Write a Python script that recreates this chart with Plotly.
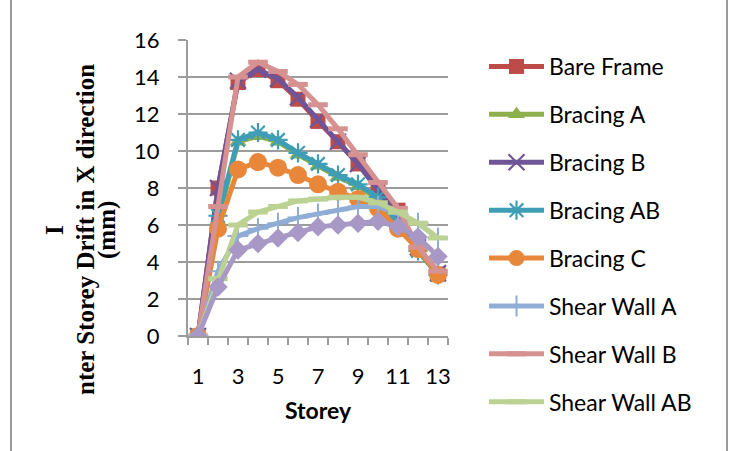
import plotly.graph_objects as go

# Storey numbers and inter-storey drift (mm) for each structural system
storeys = list(range(1, 14))

bare_frame = [0, 8.0, 13.7, 14.4, 13.8, 12.8, 11.6, 10.5, 9.3, 8.0, 6.8, 4.7, 3.35]
bracing_a = [0, 6.2, 10.5, 10.8, 10.5, 9.8, 9.2, 8.6, 8.1, 7.4, 6.0, 4.6, 3.3]
bracing_b = [0, 8.0, 13.8, 14.4, 13.9, 12.9, 11.7, 10.5, 9.3, 7.9, 6.5, 4.8, 3.4]
bracing_ab = [0, 6.5, 10.6, 11.0, 10.6, 9.9, 9.3, 8.7, 8.2, 7.5, 6.1, 4.6, 3.3]
bracing_c = [0, 5.8, 9.0, 9.4, 9.1, 8.7, 8.2, 7.8, 7.4, 6.9, 5.8, 4.7, 3.3]
shear_wall_a = [0, 3.5, 5.4, 5.8, 6.1, 6.4, 6.6, 6.8, 7.0, 7.0, 6.6, 6.1, 5.3]
shear_wall_b = [0, 7.0, 14.0, 14.8, 14.3, 13.6, 12.5, 11.2, 9.8, 8.3, 6.9, 4.8, 3.5]
shear_wall_ab = [0, 3.1, 6.0, 6.7, 7.0, 7.3, 7.4, 7.5, 7.5, 7.2, 6.7, 6.1, 5.3]
shear_wall_c = [0, 2.65, 4.65, 5.0, 5.3, 5.6, 5.9, 6.0, 6.1, 6.2, 5.9, 5.35, 4.3]

x_tick_labels = ["1", "3", "5", "7", "9", "11", "13"]
y_tick_values = [0, 2, 4, 6, 8, 10, 12, 14, 16]

# plot-area geometry in pixels
W, H = 730, 451
L, R, T, B = 188, 448, 40, 336

def px_x(p):
    return (p - L) / (R - L)

def px_y(p):
    return (B - p) / (B - T)

series = [
    ("Bare Frame", bare_frame, "#BE4B48", dict(symbol="square", size=15)),
    ("Bracing A", bracing_a, "#8DB04C", dict(symbol="triangle-up", size=15)),
    ("Bracing B", bracing_b, "#6F5597", dict(symbol="x-thin", size=16, line=dict(width=2.2, color="#6F5597"))),
    ("Bracing AB", bracing_ab, "#3E9EB6", dict(symbol="asterisk", size=16, line=dict(width=2.2, color="#3E9EB6"))),
    ("Bracing C", bracing_c, "#E8873A", dict(symbol="circle", size=18)),
    ("Shear Wall A", shear_wall_a, "#90ADD6", dict(symbol="cross-thin", size=15, line=dict(width=2, color="#90ADD6"))),
    ("Shear Wall B", shear_wall_b, "#D69291", dict(symbol="line-ew", size=14, line=dict(width=5, color="#D69291"))),
    ("Shear Wall AB", shear_wall_ab, "#BBD292", dict(symbol="line-ew", size=14, line=dict(width=5, color="#BBD292"))),
]

fig = go.Figure()
for i, (name, vals, color, marker) in enumerate(series):
    m = dict(color=color)
    m.update(marker)
    fig.add_trace(go.Scatter(
        x=storeys, y=vals, name=name, mode="lines+markers",
        line=dict(color=color, width=5), marker=m,
        legendgroup=f"g{i}",
    ))

fig.add_trace(go.Scatter(
    x=storeys, y=shear_wall_c, name="Shear Wall C", mode="lines+markers",
    line=dict(color="#A898C6", width=5),
    marker=dict(symbol="diamond", size=15, color="#A898C6"),
    showlegend=False,
))

grid = "#9C9C9C"
tick_font = dict(family="Lato", size=22, color="#000000")

fig.update_layout(
    width=W, height=H,
    margin=dict(l=L, r=W - R, t=T, b=H - B),
    paper_bgcolor="white", plot_bgcolor="white",
    showlegend=True,
    legend=dict(
        x=px_x(484), y=px_y(45), xanchor="left", yanchor="top",
        font=dict(family="Lato", size=23, color="#000000"),
        itemwidth=55, tracegroupgap=15, bgcolor="rgba(0,0,0,0)",
        maxheight=440,
    ),
    xaxis=dict(
        range=[0.5, 13.5], tickmode="array",
        tickvals=[int(t) for t in x_tick_labels], ticktext=x_tick_labels,
        ticks="", showgrid=False, zeroline=False,
        showline=True, linecolor=grid, linewidth=2,
        minor=dict(ticks="outside", tick0=0.5, dtick=1, ticklen=7, tickcolor=grid, tickwidth=2, showgrid=False),
        tickfont=tick_font, ticklabelstandoff=20,
        title=dict(text="<b>Storey</b>", font=dict(family="Lato", size=23, color="#000000"), standoff=14),
        fixedrange=True,
    ),
    yaxis=dict(
        range=[0, 16], tickmode="array", tickvals=y_tick_values,
        ticks="outside", ticklen=8, tickcolor=grid, tickwidth=2,
        showgrid=True, gridcolor=grid, gridwidth=2, zeroline=False,
        showline=True, linecolor=grid, linewidth=2,
        tickfont=tick_font, ticklabelstandoff=14,
        fixedrange=True,
    ),
)

# vertical axis title, set as three rotated lines
title_font = dict(family="Liberation Serif", size=25, color="#000000")
for text, cx in [("<b>I</b>", 54), ("<b>nter Storey Drift in X direction</b>", 85), ("<b>(mm)</b>", 107)]:
    fig.add_annotation(
        text=text, textangle=-90, xref="paper", yref="paper",
        x=px_x(cx), y=px_y(230), xanchor="center", yanchor="middle",
        showarrow=False, font=title_font,
    )

# chart border
fig.add_shape(type="line", xref="paper", yref="paper",
              x0=px_x(11), x1=px_x(11), y0=px_y(-5), y1=px_y(456),
              line=dict(color="#9A9A9A", width=2))
fig.add_shape(type="line", xref="paper", yref="paper",
              x0=px_x(727), x1=px_x(727), y0=px_y(-5), y1=px_y(456),
              line=dict(color="#9A9A9A", width=2))

fig.write_html("out.html")
